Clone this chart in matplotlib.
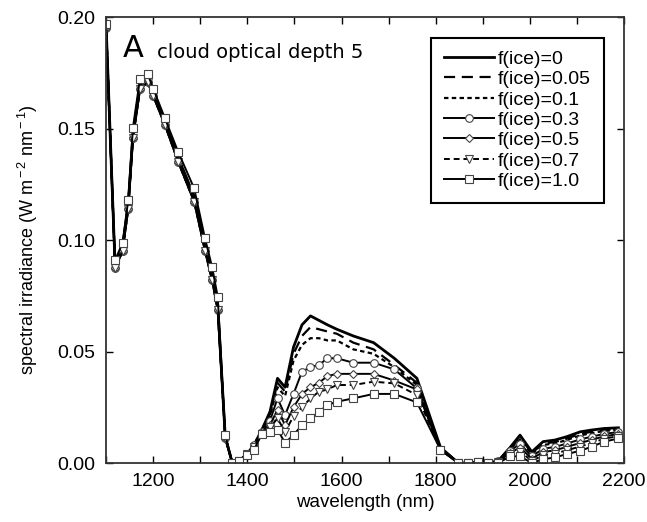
import matplotlib
matplotlib.use("Agg")
import matplotlib.pyplot as plt
import matplotlib.font_manager as fm
from matplotlib.ticker import MultipleLocator, FormatStrFormatter

# keep the narrow cut of Liberation Sans from being picked
fm.fontManager.ttflist = [f for f in fm.fontManager.ttflist if 'Narrow' not in f.fname]

plt.rcParams['font.family'] = ['Liberation Sans', 'DejaVu Sans']
plt.rcParams['mathtext.fontset'] = 'custom'
plt.rcParams['mathtext.rm'] = 'Liberation Sans'
plt.rcParams['mathtext.it'] = 'Liberation Sans:italic'

# wavelength grid (nm)
wl = [1100, 1119, 1135, 1147, 1157, 1172, 1188, 1200, 1225, 1253, 1287, 1310,
      1325, 1337, 1353, 1368, 1383, 1399, 1414, 1431, 1448, 1464, 1480, 1498,
      1516, 1534, 1552, 1570, 1590, 1625, 1668, 1712, 1760, 1810, 1848, 1869,
      1890, 1912, 1933, 1958, 1979, 2004, 2028, 2053, 2078, 2107, 2131, 2158,
      2188]

# spectral irradiance (W m-2 nm-1), 1100-1368 nm part
head_water = [0.196, 0.089, 0.097, 0.116, 0.1475, 0.1695, 0.1728, 0.1664, 0.1533,
              0.137, 0.1195, 0.0975, 0.0845, 0.0712, 0.0118, 0.0]
head_mixed = [0.195, 0.0873, 0.095, 0.114, 0.1456, 0.1676, 0.171, 0.1646, 0.1516,
              0.1351, 0.1172, 0.0952, 0.082, 0.0686, 0.011, 0.0]
head_ice = [0.197, 0.091, 0.0988, 0.118, 0.1505, 0.1725, 0.1747, 0.168, 0.1546,
            0.1396, 0.1232, 0.1008, 0.088, 0.0746, 0.0126, 0.0]

# 1383-2188 nm part
tail_f0 = [0.001, 0.004, 0.008, 0.015, 0.023, 0.038, 0.034, 0.052, 0.062, 0.066,
           0.064, 0.062, 0.060, 0.057, 0.054, 0.047, 0.038, 0.007, 0.0, 0.0,
           0.0005, 0.0, 0.001, 0.007, 0.0125, 0.005, 0.0096, 0.0103, 0.0118,
           0.014, 0.0148, 0.0155, 0.0158]
tail_f005 = [0.001, 0.004, 0.008, 0.015, 0.022, 0.036, 0.032, 0.049, 0.057, 0.061,
             0.060, 0.059, 0.058, 0.054, 0.051, 0.044, 0.036, 0.007, 0.0, 0.0,
             0.0005, 0.0, 0.001, 0.0066, 0.0115, 0.0045, 0.0087, 0.0094, 0.0109,
             0.0131, 0.014, 0.0149, 0.0153]
tail_f01 = [0.001, 0.004, 0.008, 0.015, 0.021, 0.034, 0.030, 0.046, 0.053, 0.056,
            0.056, 0.055, 0.055, 0.051, 0.049, 0.043, 0.035, 0.0065, 0.0, 0.0,
            0.0005, 0.0, 0.001, 0.0062, 0.0107, 0.004, 0.0081, 0.0088, 0.0103,
            0.0124, 0.0134, 0.0144, 0.0149]
tail_f03 = [0.001, 0.004, 0.008, 0.014, 0.019, 0.029, 0.0215, 0.031, 0.041, 0.043,
            0.044, 0.047, 0.047, 0.045, 0.045, 0.042, 0.0335, 0.006, 0.0, 0.0,
            0.0005, 0.0, 0.001, 0.0054, 0.0087, 0.003, 0.0064, 0.0072, 0.0087,
            0.0106, 0.0118, 0.0131, 0.0139]
tail_f05 = [0.001, 0.004, 0.007, 0.014, 0.017, 0.024, 0.017, 0.025, 0.031, 0.034,
            0.036, 0.039, 0.040, 0.040, 0.040, 0.037, 0.033, 0.006, 0.0, 0.0,
            0.0005, 0.0, 0.0005, 0.0046, 0.0069, 0.002, 0.0049, 0.0057, 0.0072,
            0.009, 0.0104, 0.012, 0.013]
tail_f07 = [0.001, 0.004, 0.007, 0.013, 0.016, 0.020, 0.014, 0.021, 0.025, 0.029,
            0.032, 0.033, 0.035, 0.035, 0.0365, 0.0357, 0.0305, 0.006, 0.0, 0.0,
            0.0005, 0.0, 0.0005, 0.0039, 0.0051, 0.001, 0.0034, 0.0042, 0.0057,
            0.0074, 0.009, 0.0109, 0.0121]
tail_f10 = [0.001, 0.0036, 0.006, 0.013, 0.014, 0.015, 0.009, 0.0126, 0.017, 0.020,
            0.023, 0.026, 0.0275, 0.029, 0.031, 0.031, 0.0272, 0.006, 0.0, 0.0,
            0.0006, 0.0, 0.0, 0.003, 0.003, 0.0, 0.0017, 0.0025, 0.004, 0.0055,
            0.0073, 0.0096, 0.011]

labels = ['f(ice)=0', 'f(ice)=0.05', 'f(ice)=0.1', 'f(ice)=0.3', 'f(ice)=0.5',
          'f(ice)=0.7', 'f(ice)=1.0']
series = [head_water + tail_f0, head_water + tail_f005, head_water + tail_f01,
          head_mixed + tail_f03, head_mixed + tail_f05, head_mixed + tail_f07,
          head_ice + tail_f10]

styles = [
    dict(ls='-', lw=2.0, marker=None),
    dict(ls=(0, (5, 3)), lw=1.6, marker=None),
    dict(ls=(0, (2, 1.5)), lw=1.6, marker=None),
    dict(ls='-', lw=1.4, marker='o', ms=5.5),
    dict(ls='-', lw=1.4, marker='D', ms=3.8),
    dict(ls=(0, (3, 2)), lw=1.4, marker='v', ms=5.5),
    dict(ls='-', lw=1.4, marker='s', ms=6),
]

fig = plt.figure(figsize=(6.47, 5.22), dpi=100)
ax = fig.add_axes([0.164, 0.113, 0.8006, 0.854])

for y, lab, st in zip(series, labels, styles):
    ax.plot(wl, y, color='black', linestyle=st['ls'], linewidth=st['lw'],
            marker=st['marker'], markersize=st.get('ms', 0),
            markerfacecolor='white', markeredgecolor='#444444',
            markeredgewidth=0.8, label=lab)

ax.set_xlim(1100, 2200)
ax.set_ylim(0, 0.2)
ax.xaxis.set_major_locator(MultipleLocator(200))
ax.xaxis.set_minor_locator(MultipleLocator(100))
ax.yaxis.set_major_locator(MultipleLocator(0.05))
ax.yaxis.set_major_formatter(FormatStrFormatter('%.2f'))
ax.tick_params(which='both', direction='in', top=True, right=True,
               length=5, width=1, labelsize=14)
ax.tick_params(axis='x', pad=7)
ax.tick_params(axis='y', pad=8)
for s in ax.spines.values():
    s.set_linewidth(1.3)
    s.set_color('#333333')

ax.set_xlabel('wavelength (nm)', fontsize=13.5, labelpad=3)
ax.set_ylabel(r'spectral irradiance (W m$^{\rm -2}$ nm$^{\rm -1}$)', fontsize=13,
              labelpad=12)

ax.text(0.033, 0.910, 'A', transform=ax.transAxes, fontsize=22,
        family='DejaVu Sans', va='baseline')
ax.text(0.098, 0.908, 'cloud optical depth 5', transform=ax.transAxes,
        fontsize=14, family='DejaVu Sans', va='baseline')

leg = ax.legend(loc='upper right', fontsize=14, frameon=True, fancybox=False,
                edgecolor='black', framealpha=1, borderaxespad=1.05,
                handlelength=2.6, handletextpad=0.2, labelspacing=0.14,
                borderpad=0.65)
leg.get_frame().set_linewidth(1.5)

fig.savefig('out.png', dpi=100)
